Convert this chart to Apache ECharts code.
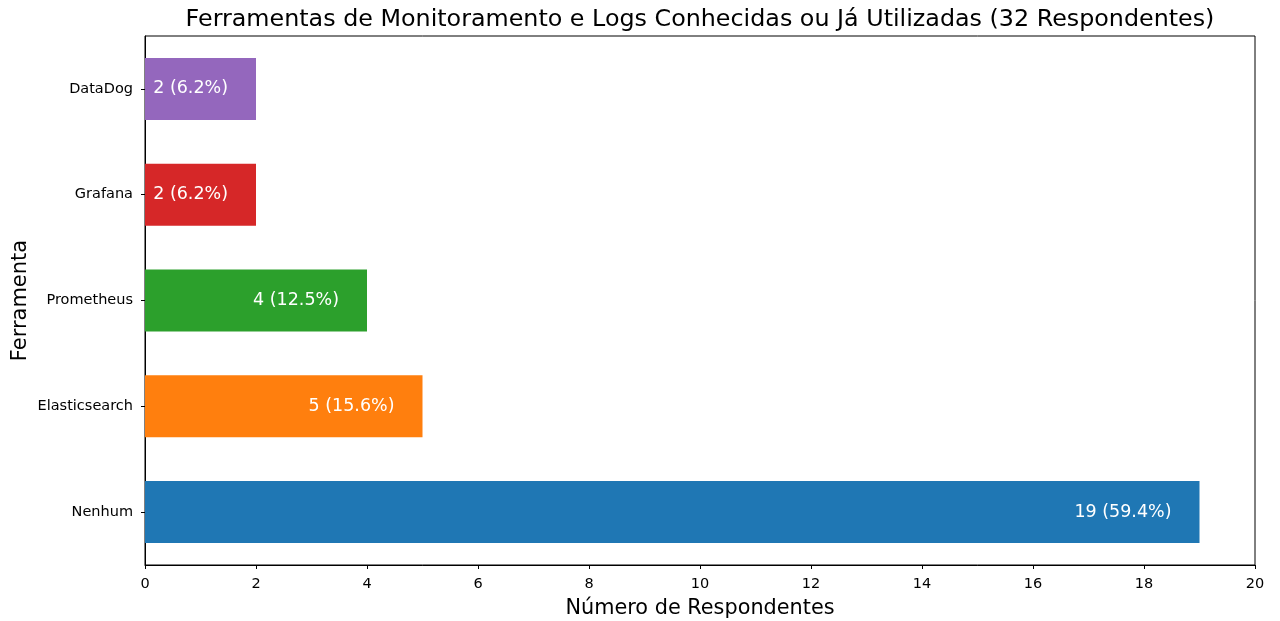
<!DOCTYPE html>
<html>
<head>
<meta charset="utf-8">
<title>Ferramentas de Monitoramento</title>
<script src="https://cdn.jsdelivr.net/npm/echarts@6/dist/echarts.min.js"></script>
<style>
  html, body { margin: 0; padding: 0; background: #fff; }
  #main { width: 1280px; height: 621px; }
</style>
</head>
<body>
<div id="main"></div>
<script>
// dados (de baixo para cima)
var ferramentas = ["Nenhum", "Elasticsearch", "Prometheus", "Grafana", "DataDog"];
var respondentes = [19, 5, 4, 2, 2];
var percentuais = ["59.4", "15.6", "12.5", "6.2", "6.2"];
var totalRespondentes = 32;
var cores = ["#1f77b4", "#ff7f0e", "#2ca02c", "#d62728", "#9467bd"];
var ticksX = [0, 2, 4, 6, 8, 10, 12, 14, 16, 18, 20];

var fonte = "DejaVu Sans";

var chart = echarts.init(document.getElementById("main"));

var option = {
  animation: false,
  backgroundColor: "#fff",
  textStyle: { fontFamily: fonte },
  title: {
    text: "Ferramentas de Monitoramento e Logs Conhecidas ou Já Utilizadas (" + totalRespondentes + " Respondentes)",
    left: 695,
    textAlign: "center",
    top: 3,
    textStyle: { fontFamily: fonte, fontSize: 23.8, fontWeight: "normal", color: "#000" }
  },
  grid: {
    left: 145,
    right: 25,
    top: 36,
    bottom: 56,
    containLabel: false,
    outerBoundsMode: "none",
    show: true,
    borderColor: "#000",
    borderWidth: 1
  },
  xAxis: {
    type: "value",
    min: ticksX[0],
    max: ticksX[ticksX.length - 1],
    interval: 2,
    name: "Número de Respondentes",
    nameLocation: "middle",
    nameGap: 33,
    nameMoveOverlap: false,
    nameTextStyle: { fontFamily: fonte, fontSize: 20.8, color: "#000" },
    splitLine: { show: false },
    axisLine: { show: true, lineStyle: { color: "#000", width: 1 } },
    axisTick: { show: true, length: 4, lineStyle: { color: "#000" } },
    axisLabel: { fontFamily: fonte, fontSize: 14.5, color: "#000", margin: 12 }
  },
  yAxis: {
    type: "category",
    data: ferramentas,
    name: "Ferramenta",
    nameLocation: "middle",
    nameGap: 114,
    nameMoveOverlap: false,
    nameTextStyle: { fontFamily: fonte, fontSize: 21, color: "#000" },
    axisLine: { show: true, lineStyle: { color: "#000", width: 1 } },
    axisTick: { show: true, alignWithLabel: true, length: 4, lineStyle: { color: "#000" } },
    axisLabel: { fontFamily: fonte, fontSize: 14.5, color: "#000", margin: 12 }
  },
  series: [
    {
      type: "bar",
      barWidth: 62,
      data: respondentes.map(function (v, i) {
        return { value: v, itemStyle: { color: cores[i] } };
      }),
      label: {
        show: true,
        position: "insideRight",
        distance: 28,
        color: "#fff",
        fontFamily: fonte,
        fontSize: 17.5,
        formatter: function (p) {
          return p.value + " (" + percentuais[p.dataIndex] + "%)";
        }
      }
    }
  ]
};

chart.setOption(option);
</script>
</body>
</html>
